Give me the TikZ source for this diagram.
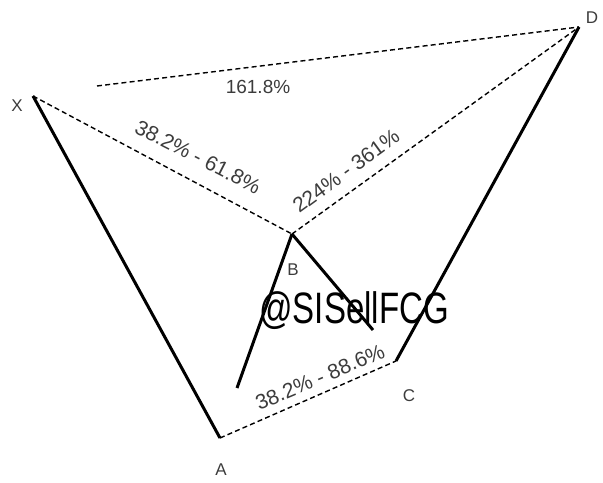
\documentclass[tikz,border=0pt]{standalone}
\usepackage{fontspec}
\setmainfont{Liberation Sans}
\usepackage{tikz}
\usetikzlibrary{arrows.meta,positioning,calc}
\definecolor{labelgray}{HTML}{3C3C3C}

\begin{document}
\begin{tikzpicture}[x=0.5pt,y=-0.5pt,
  leg/.style={line width=1.5pt,black},
  ratio/.style={line width=0.7pt,black,dash pattern=on 2.5pt off 1.6pt},
  pct/.style={text=labelgray,font=\fontsize{10.5}{12}\selectfont,inner sep=0pt},
  pointname/.style={text=labelgray,font=\fontsize{8.5}{10}\selectfont,inner sep=0pt}]
\useasboundingbox (0,0) rectangle (603,482);
% pattern points
\coordinate (X) at (33,96);
\coordinate (A) at (220,438);
\coordinate (B) at (292,234);
\coordinate (C) at (396,361);
\coordinate (D) at (579,27);
\coordinate (ABstart) at (237,388);
\coordinate (BCend) at (373,330);
\coordinate (XDstart) at (97,86);
% legs
\draw[leg] (X)--(A);
\draw[leg] (ABstart)--(B);
\draw[leg] (B)--(BCend);
\draw[leg] (C)--(D);
% ratio lines
\draw[ratio] (X)--(B);
\draw[ratio] (B)--(D);
\draw[ratio] (A)--(C);
\draw[ratio] (XDstart)--(D);
% point names
\node[pointname] (nX) at (17,106) {X};
\node[pointname] (nA) at (221,470) {A};
\node[pointname] (nB) at (293,270) {B};
\node[pointname] (nC) at (409,396) {C};
\node[pointname] (nD) at (592,18) {D};
% ratios
\node[pct,font=\fontsize{9.5}{11}\selectfont] (rXD) at (258,87) {161.8\%};
\node[pct,rotate=-27] (rXB) at (198,157) {38.2\% - 61.8\%};
\node[pct,rotate=36] (rBD) at (346,171) {224\% - 361\%};
\node[pct,rotate=23] (rAC) at (320,377) {38.2\% - 88.6\%};
% watermark
\node[inner sep=0pt,xscale=0.75,font=\fontsize{22}{24}\selectfont] (mark) at (354,311) {@SISellFCG};
\end{tikzpicture}
\end{document}
